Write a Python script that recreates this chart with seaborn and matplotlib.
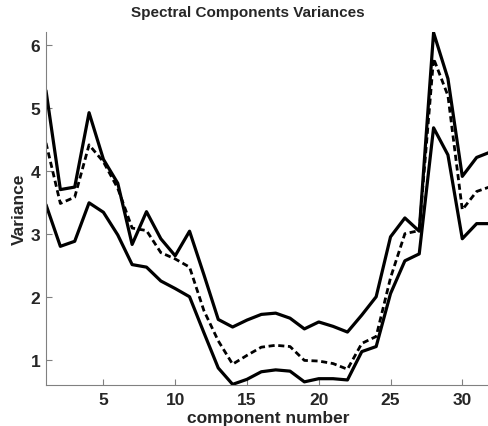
import numpy as np
import pandas as pd
import matplotlib
matplotlib.use("Agg")
import matplotlib.pyplot as plt
import seaborn as sns

components = list(range(1, 33))
upper = [5.27, 3.70, 3.74, 4.92, 4.18, 3.80, 2.83, 3.35, 2.92, 2.65, 3.04, 2.35,
         1.64, 1.52, 1.63, 1.72, 1.74, 1.66, 1.49, 1.60, 1.53, 1.44, 1.71, 2.00,
         2.95, 3.25, 3.04, 6.19, 5.46, 3.91, 4.21, 4.30]
mean = [4.44, 3.48, 3.58, 4.41, 4.14, 3.72, 3.09, 3.05, 2.70, 2.60, 2.47, 1.78,
        1.30, 0.93, 1.07, 1.20, 1.23, 1.21, 0.99, 0.98, 0.94, 0.85, 1.26, 1.37,
        2.30, 3.00, 3.05, 5.78, 5.19, 3.38, 3.67, 3.75]
lower = [3.46, 2.80, 2.88, 3.49, 3.34, 2.98, 2.51, 2.47, 2.25, 2.13, 2.00, 1.43,
         0.87, 0.61, 0.69, 0.81, 0.84, 0.82, 0.65, 0.70, 0.70, 0.68, 1.13, 1.21,
         2.05, 2.57, 2.68, 4.68, 4.25, 2.92, 3.16, 3.16]
x_ticks = [5, 10, 15, 20, 25, 30]
y_ticks = [1, 2, 3, 4, 5, 6]

sns.set_theme(style="white")
plt.rcParams['font.family'] = ['Liberation Sans', 'DejaVu Sans']

fig = plt.figure(figsize=(4.88, 4.27), dpi=100)
ax = fig.add_axes([46 / 488, 41 / 427, 445 / 488, 353 / 427])

df = pd.DataFrame({"component": components * 3,
                   "variance": upper + mean + lower,
                   "series": ["upper"] * 32 + ["mean"] * 32 + ["lower"] * 32})

sns.lineplot(data=df[df.series == "upper"], x="component", y="variance",
             color="black", lw=2.3, ax=ax)
sns.lineplot(data=df[df.series == "lower"], x="component", y="variance",
             color="black", lw=2.3, ax=ax)
sns.lineplot(data=df[df.series == "mean"], x="component", y="variance",
             color="black", lw=2.0, ax=ax, linestyle=(0, (2.2, 1.3)))

ax.set_xlim(1, 32)
ax.set_ylim(0.6, 6.2)
ax.set_xticks(x_ticks)
ax.set_yticks(y_ticks)
ax.set_xticklabels([str(t) for t in x_ticks], fontsize=12.5, fontweight="bold")
ax.set_yticklabels([str(t) for t in y_ticks], fontsize=12.5, fontweight="bold")
ax.tick_params(direction="in", length=4, width=0.8, color="#808080", pad=4,
               bottom=True, left=True)
ax.xaxis.set_tick_params(pad=5)
for s in ["top", "right"]:
    ax.spines[s].set_visible(False)
for s in ["left", "bottom"]:
    ax.spines[s].set_color("#808080")
    ax.spines[s].set_linewidth(0.8)

ax.set_xlabel("component number", fontsize=12.5, fontweight="bold", labelpad=2.5)
ax.set_ylabel("Variance", fontsize=12.5, fontweight="bold", labelpad=3)
fig.text(248 / 488, 1 - 13 / 427, "Spectral Components Variances",
         ha="center", va="center", fontsize=11, fontweight="bold")

fig.savefig("out.png", dpi=100)
